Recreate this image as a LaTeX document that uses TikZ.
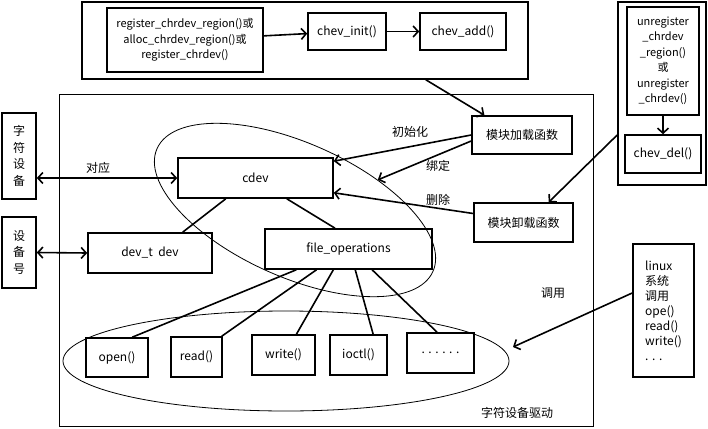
\documentclass[tikz,border=0pt]{standalone}
\usepackage{fontspec}
\setmainfont{Noto Sans CJK SC}
\usetikzlibrary{arrows.meta,shapes.geometric,calc}

\begin{document}
\begin{tikzpicture}[x=1pt,y=-1pt,
		box/.style={draw,line width=1.6pt,inner sep=0pt,align=center,font=\fontsize{12}{15}\selectfont},
		small/.style={font=\fontsize{11}{15.5}\selectfont},
		frame/.style={draw,line width=1.6pt,inner sep=0pt},
		grp/.style={draw,ellipse,line width=0.8pt,inner sep=0pt},
		link/.style={line width=1.6pt},
		arr/.style={line width=1.6pt,-{Straight Barb[length=5pt,width=11pt]}},
		darr/.style={line width=1.6pt,{Straight Barb[length=5pt,width=11pt]}-{Straight Barb[length=5pt,width=11pt]}},
		lbl/.style={font=\fontsize{12}{14}\selectfont}]

		\useasboundingbox (0,0) rectangle (708,428);

		\node[frame, minimum width=446, minimum height=77] (reg) at (305,40.5) {};
		\node[frame, minimum width=88, minimum height=183] (rframe) at (662,93.5) {};
		\node[frame, minimum width=534, minimum height=332] (drv) at (326.5,260.5) {};

		\node[box, small, minimum width=156, minimum height=64] (alloc) at (185,40) {register\_chrdev\_region()或\\alloc\_chrdev\_region()或\\register\_chrdev()};
		\node[box, minimum width=78, minimum height=37] (init) at (347,31.5) {chev\_init()};
		\node[box, minimum width=86, minimum height=37] (add) at (463,31.5) {chev\_add()};

		\node[box, small, minimum width=72, minimum height=108] (unreg) at (663,61) {unregister\\\_chrdev\\\_region()\\或\\unregister\\\_chrdev()};
		\node[box, minimum width=76, minimum height=38] (del) at (663,154) {chev\_del()};

		\node[box, font=\fontsize{12}{16.5}\selectfont, minimum width=34, minimum height=86] (chr) at (19,156) {字\\符\\设\\备};
		\node[box, font=\fontsize{12}{16.5}\selectfont, minimum width=34, minimum height=71] (num) at (19,252.5) {设\\备\\号};

		\node[box, minimum width=155, minimum height=40] (cdev) at (255.5,178) {cdev};
		\node[box, minimum width=124, minimum height=40] (devt) at (150,253) {dev\_t\ \ dev};
		\node[box, minimum width=167, minimum height=40] (fops) at (348.5,249) {file\_operations};
		\node[box, minimum width=100, minimum height=38] (load) at (522,135) {模块加载函数};
		\node[box, minimum width=99, minimum height=39] (unload) at (523.5,222.5) {模块卸载函数};

		\node[grp, minimum width=302, minimum height=134, rotate=-24] (core) at (295,210) {};
		\node[grp, minimum width=446, minimum height=100] (ops) at (286,361) {};

		\node[box, minimum width=62, minimum height=39] (open) at (117,357.5) {open()};
		\node[box, minimum width=51, minimum height=40] (read) at (196.5,357) {read()};
		\node[box, minimum width=63, minimum height=40] (write) at (283.5,355) {write()};
		\node[box, minimum width=57, minimum height=40] (ioctl) at (358.5,355) {ioctl()};
		\node[box, minimum width=67, minimum height=40] (more) at (440.5,353) {. . . . . .};

		\node[box, align=left, minimum width=61, minimum height=133] (sys) at (663.5,310.5) {linux\\系统\\调用\\ope()\\read()\\write()\\. . .};
		\coordinate (callpt) at (513,347);

		\draw[arr] (alloc) -- (init);
		\draw[arr] (init) -- (add);
		\draw[arr] (unreg) -- (del);
		\draw[arr] ($(reg.south west)!0.77!(reg.south east)$) -- ($(load.north west)!0.13!(load.north east)$);
		\draw[arr] ([yshift=-41.5pt]rframe.west) -- ($(unload.north west)!0.75!(unload.north east)$);

		\draw[darr] (cdev.west -| chr.east) -- (cdev.west);
		\draw[darr] (num.east) -- (devt.west);
		\draw[link] ($(cdev.south west)!0.31!(cdev.south east)$) -- ($(devt.north west)!0.76!(devt.north east)$);
		\draw[link] ($(cdev.south west)!0.70!(cdev.south east)$) -- ($(fops.north west)!0.42!(fops.north east)$);

		\draw[arr] (load.west) -- ([yshift=-4pt]cdev.north east);
		\draw[arr] ([yshift=-6pt]load.west) -- (core.44);
		\draw[arr] ([yshift=9pt]unload.west) -- ([yshift=6pt]cdev.south east);

		\foreach \f/\a/\b in {open/0.19/0.74, read/0.31/0.98, write/0.41/0.70, ioctl/0.54/0.75, more/0.64/0.45} {
		    \draw[link] ($(fops.south west)!\a!(fops.south east)$) -- ($(\f.north west)!\b!(\f.north east)$);
		}

		\draw[arr] ([yshift=17.5pt]sys.west) -- (callpt);

		\node[lbl] (l1) at (98,168) {对应};
		\node[lbl] (l2) at (410,132) {初始化};
		\node[lbl] (l3) at (438,166) {绑定};
		\node[lbl] (l4) at (438,200) {删除};
		\node[lbl] (l5) at (553,293) {调用};
		\node[lbl] (l6) at (517,413) {字符设备驱动};
	\end{tikzpicture}
\end{document}
